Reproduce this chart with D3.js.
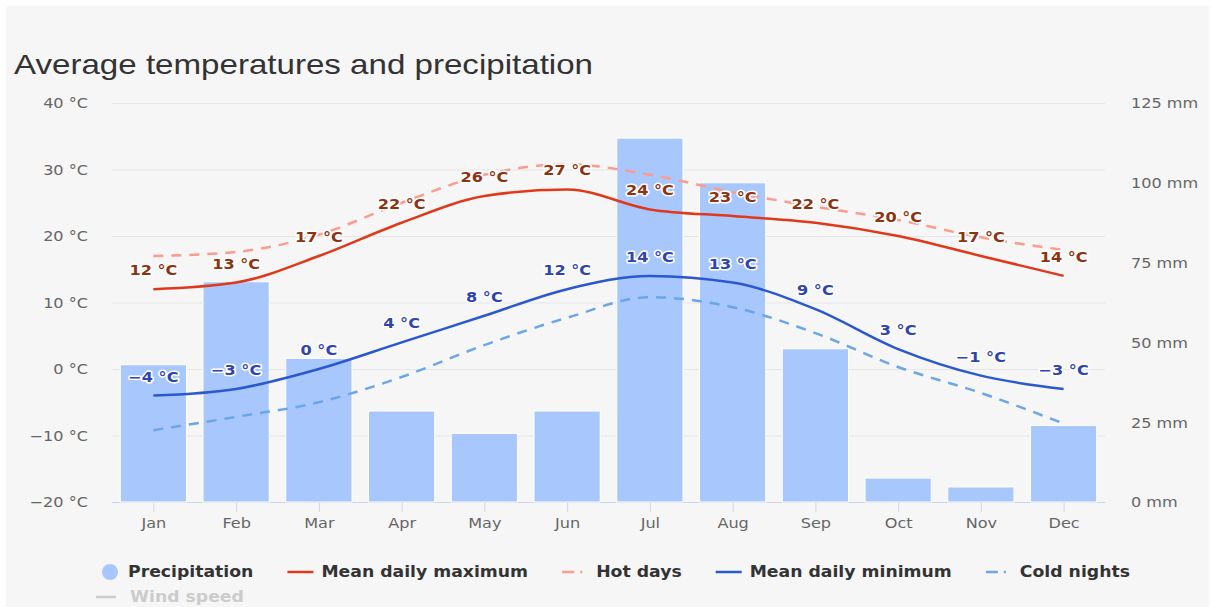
<!DOCTYPE html>
<head>
<meta charset="utf-8">
<title>Average temperatures and precipitation</title>
<script src="https://d3js.org/d3.v7.min.js"></script>
</head>

<style>
body { margin: 0; background: #fff; }
text { font-family: "DejaVu Sans", Verdana, sans-serif; }
</style>

<body>
 <svg class="chart"></svg>
</body>

<script>

// chart values
var months = ["Jan","Feb","Mar","Apr","May","Jun","Jul","Aug","Sep","Oct","Nov","Dec"];
var precipitation = [43, 69, 45, 28.5, 21.5, 28.5, 114, 100, 48, 7.5, 4.7, 24];
var meanMax = [12, 13, 17, 22, 26, 27, 24, 23, 22, 20, 17, 14];
var hotDays = [17, 17.6, 20.2, 25, 29.2, 30.8, 29.2, 26.6, 24.4, 22.4, 19.8, 17.9];
var meanMin = [-4, -3, 0, 4, 8, 12, 14, 13, 9, 3, -1, -3];
var coldNights = [-9.2, -7.2, -5, -1.2, 3.6, 7.7, 10.8, 9.3, 5.4, 0.3, -3.6, -8.2];
var tempTicks = [-20, -10, 0, 10, 20, 30, 40];
var precipTicks = [0, 25, 50, 75, 100, 125];

var W = 1213, H = 607;
var plot = {left: 112, right: 1105, top: 103, bottom: 502};
var SX = 1.15;   // text in the reference is drawn a bit wide

var svg = d3.select(".chart")
	.attr("width", W)
	.attr("height", H);

// panel background
svg.append("rect")
	.attr("x", 6).attr("y", 6)
	.attr("width", W - 10).attr("height", H - 6)
	.attr("fill", "#f6f6f6");

var x = d3.scaleBand()
	.domain(months)
	.range([plot.left, plot.right])
	.paddingInner(0.2)
	.paddingOuter(0.1);

var yTemp = d3.scaleLinear()
	.domain([-20, 40])
	.range([plot.bottom, plot.top]);

var yPrec = d3.scaleLinear()
	.domain([0, 125])
	.range([plot.bottom, plot.top]);

function cx(m) { return x(m) + x.bandwidth() / 2; }
function fmt(v) { return (v < 0 ? "\u2212" + (-v) : v) + " \u00b0C"; }

// widen text around its anchor point
function stretch(sel) {
	sel.each(function() {
		var t = d3.select(this);
		var tx = +t.attr("x") || 0, ty = +t.attr("y") || 0;
		t.attr("x", 0).attr("y", 0)
			.attr("transform", "translate(" + tx + "," + ty + ") scale(" + SX + ",1)");
	});
}

// title
svg.append("text")
	.attr("x", 14)
	.attr("y", 74)
	.attr("textLength", 579)
	.attr("lengthAdjust", "spacingAndGlyphs")
	.style("font-family", "'Liberation Sans', Arial, sans-serif")
	.style("font-size", "28px")
	.attr("fill", "#333")
	.text("Average temperatures and precipitation");

// grid lines
svg.append("g")
	.selectAll("line")
	.data(tempTicks.filter(function(t){ return t > -20; }))
	.enter().append("line")
	.attr("x1", plot.left).attr("x2", plot.right)
	.attr("y1", function(d){ return yTemp(d) + 0.5; })
	.attr("y2", function(d){ return yTemp(d) + 0.5; })
	.attr("stroke", "#e6e6e6");

// left axis
var leftAxis = svg.append("g")
	.attr("transform", "translate(" + plot.left + ",0)")
	.call(d3.axisLeft(yTemp).tickValues(tempTicks).tickSize(0).tickPadding(24).tickFormat(fmt));
leftAxis.select(".domain").remove();
leftAxis.selectAll("text")
	.attr("fill", "#666")
	.style("font-size", "14px")
	.attr("dy", "0.35em")
	.call(stretch);

// right axis
var rightAxis = svg.append("g")
	.attr("transform", "translate(" + plot.right + ",0)")
	.call(d3.axisRight(yPrec).tickValues(precipTicks).tickSize(0).tickPadding(26).tickFormat(function(d){ return d + " mm"; }));
rightAxis.select(".domain").remove();
rightAxis.selectAll("text")
	.attr("fill", "#666")
	.style("font-size", "14px")
	.attr("dy", "0.35em")
	.call(stretch);

// bottom axis
var xAxisPos = d3.scalePoint().domain(months).range([cx("Jan"), cx("Dec")]);
var bottomAxis = svg.append("g")
	.attr("transform", "translate(0," + plot.bottom + ")")
	.call(d3.axisBottom(xAxisPos).tickSize(10).tickPadding(6));
bottomAxis.select(".domain").remove();
bottomAxis.selectAll("line").attr("stroke", "#ccd6eb");
bottomAxis.selectAll("text")
	.attr("fill", "#666")
	.style("font-size", "14px")
	.call(stretch);
svg.append("line")
	.attr("x1", plot.left).attr("x2", plot.right)
	.attr("y1", plot.bottom + 0.5).attr("y2", plot.bottom + 0.5)
	.attr("stroke", "#ccd6eb");

// precipitation bars
svg.append("g")
	.selectAll("rect")
	.data(precipitation)
	.enter().append("rect")
	.attr("x", function(d, i){ return x(months[i]); })
	.attr("y", function(d){ return yPrec(d); })
	.attr("width", x.bandwidth())
	.attr("height", function(d){ return plot.bottom - yPrec(d); })
	.attr("fill", "#a8c7fd")
	.attr("stroke", "#fff")
	.attr("stroke-width", 1);

// temperature lines
var line = d3.line()
	.x(function(d, i){ return cx(months[i]); })
	.y(function(d){ return yTemp(d); })
	.curve(d3.curveMonotoneX);

var series = [
	{name: "Cold nights", values: coldNights, color: "#6aa6e8", dash: "10,8"},
	{name: "Hot days", values: hotDays, color: "#fb9c8c", dash: "10,8"},
	{name: "Mean daily minimum", values: meanMin, color: "#2b57cf", dash: null},
	{name: "Mean daily maximum", values: meanMax, color: "#e0381a", dash: null}
];

series.forEach(function(s) {
	svg.append("path")
		.datum(s.values)
		.attr("d", line)
		.attr("fill", "none")
		.attr("stroke", s.color)
		.attr("stroke-width", 2.5)
		.attr("stroke-dasharray", s.dash);
});

// data labels
function labels(values, color) {
	svg.append("g")
		.selectAll("text")
		.data(values)
		.enter().append("text")
		.attr("x", function(d, i){ return cx(months[i]); })
		.attr("y", function(d){ return yTemp(d) - 14; })
		.attr("text-anchor", "middle")
		.style("font-size", "14px")
		.style("font-weight", "bold")
		.attr("fill", color)
		.attr("stroke", "#fff")
		.attr("stroke-width", 3)
		.attr("stroke-linejoin", "round")
		.attr("paint-order", "stroke")
		.text(fmt)
		.call(stretch);
}
labels(meanMax, "#8c3310");
labels(meanMin, "#2f44b0");

// legend
var legendItems = [
	{name: "Precipitation", type: "circle", color: "#a8c7fd"},
	{name: "Mean daily maximum", type: "line", color: "#e0381a"},
	{name: "Hot days", type: "dash", color: "#fb9c8c"},
	{name: "Mean daily minimum", type: "line", color: "#2b57cf"},
	{name: "Cold nights", type: "dash", color: "#6aa6e8"}
];

var lx = 100, ly = 572;
legendItems.forEach(function(item) {
	var g = svg.append("g");
	var off = item.type == "circle" ? 28 : 34;
	if (item.type == "circle") {
		g.append("circle").attr("cx", lx + 10).attr("cy", ly).attr("r", 8).attr("fill", item.color);
	} else if (item.type == "line") {
		g.append("line").attr("x1", lx).attr("x2", lx + 26).attr("y1", ly).attr("y2", ly)
			.attr("stroke", item.color).attr("stroke-width", 2.5);
	} else {
		g.append("line").attr("x1", lx).attr("x2", lx + 26).attr("y1", ly).attr("y2", ly)
			.attr("stroke", item.color).attr("stroke-width", 2.5).attr("stroke-dasharray", "12,6,2,6");
	}
	var t = g.append("text")
		.attr("x", lx + off)
		.attr("y", ly + 5)
		.style("font-size", "15px")
		.style("font-weight", "bold")
		.attr("fill", "#333")
		.text(item.name);
	var w = t.node().getComputedTextLength() * SX;
	t.call(stretch);
	lx = lx + off + w + 34;
});

// hidden series
svg.append("line").attr("x1", 96).attr("x2", 116).attr("y1", 597).attr("y2", 597)
	.attr("stroke", "#ccc").attr("stroke-width", 2.5);
svg.append("text")
	.attr("x", 130).attr("y", 602)
	.style("font-size", "15px")
	.style("font-weight", "bold")
	.attr("fill", "#ccc")
	.text("Wind speed")
	.call(stretch);

</script>
